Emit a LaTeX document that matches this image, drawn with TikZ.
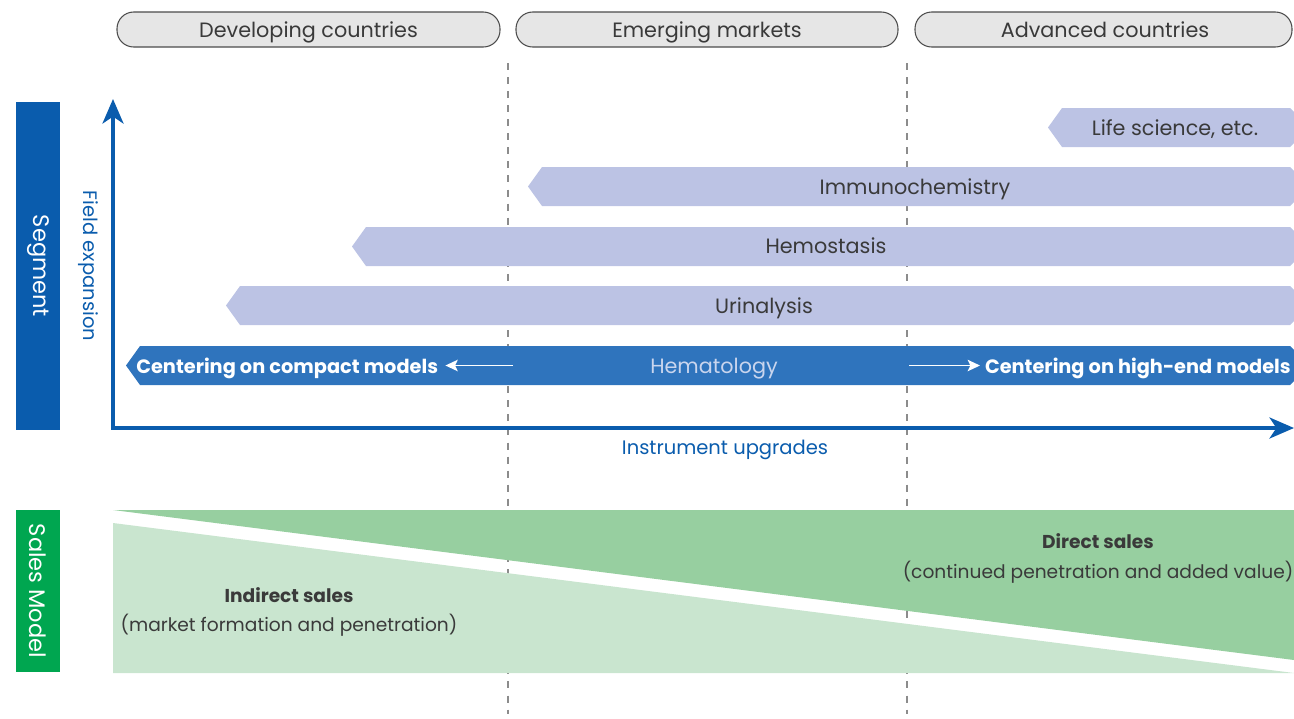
\documentclass[tikz,border=0pt]{standalone}
\usepackage{fontspec}
\setmainfont{Poppins}
\usetikzlibrary{arrows.meta}
\definecolor{segblue}{HTML}{0A5CAD}
\definecolor{hemblue}{HTML}{2F74BD}
\definecolor{lav}{HTML}{BCC3E4}
\definecolor{salesgreen}{HTML}{00A650}
\definecolor{dgreen}{HTML}{97CFA0}
\definecolor{lgreen}{HTML}{C9E5CF}
\definecolor{txt}{HTML}{3A3A3A}
\definecolor{pillfill}{HTML}{E6E6E6}
\definecolor{hemtxt}{HTML}{C9D5EE}
\begin{document}
\begin{tikzpicture}[x=0.02cm,y=-0.02cm,
  pill/.style={draw=black!70,line width=0.6pt,fill=pillfill,rounded corners=9.5pt},
  pilltxt/.style={anchor=base,text=txt,font=\fontsize{11.8}{14}\selectfont},
  bartxt/.style={anchor=base,text=txt,font=\fontsize{11.8}{14}\selectfont},
  whitebold/.style={text=white,font=\fontsize{11}{13}\selectfont\bfseries},
  saletxt/.style={anchor=base,text=txt,font=\fontsize{10.6}{13}\selectfont,align=center},
  axis/.style={draw=segblue,line width=1.8pt,-{Stealth[length=14pt,width=12pt,inset=4pt]}},
  axistxt/.style={text=segblue,font=\fontsize{11.1}{13}\selectfont},
  sidetxt/.style={text=white,font=\fontsize{12.8}{15}\selectfont,rotate=-90},
  divider/.style={draw=black!45,line width=0.6pt,dash pattern=on 4pt off 4pt},
  warrow/.style={draw=white,line width=0.9pt,-{Stealth[length=7pt,width=6.5pt,inset=1.5pt]}}
]
\useasboundingbox (0,0) rectangle (1294,718);

% dividers
\draw[divider] (508,63) -- (508,714);
\draw[divider] (907,63) -- (907,714);

% pills
\draw[pill] (117,12) rectangle (500,47);
\node[pilltxt] (p1) at (308.5,37) {Developing countries};
\draw[pill] (516,12) rectangle (898,47);
\node[pilltxt] (p2) at (707,37) {Emerging markets};
\draw[pill] (915,12) rectangle (1292,47);
\node[pilltxt] (p3) at (1105,37) {Advanced countries};

% side bars
\fill[segblue] (16,102) rectangle (60,430);
\node[sidetxt] (seg) at (38,266) {Segment};
\fill[salesgreen] (16,510) rectangle (60,672);
\node[sidetxt] (sm) at (38,591) {Sales Model};

% lavender bars
\fill[lav] (1048,127.5) -- (1062,108) -- (1290,108) -- (1294,112) -- (1294,143) -- (1290,147) -- (1062,147) -- cycle;
\node[bartxt] (ls) at (1175,135) {Life science, etc.};
\fill[lav] (528,186.5) -- (542,167) -- (1290,167) -- (1294,171) -- (1294,202) -- (1290,206) -- (542,206) -- cycle;
\node[bartxt] (im) at (915,194) {Immunochemistry};
\fill[lav] (352,246.5) -- (366,227) -- (1290,227) -- (1294,231) -- (1294,262) -- (1290,266) -- (366,266) -- cycle;
\node[bartxt] (hs) at (826,253) {Hemostasis};
\fill[lav] (226,305.5) -- (240,286) -- (1290,286) -- (1294,290) -- (1294,321) -- (1290,325) -- (240,325) -- cycle;
\node[bartxt] (ur) at (764,313) {Urinalysis};

% hematology bar
\fill[hemblue] (126,365.5) -- (140,346) -- (1290,346) -- (1294,350) -- (1294,381) -- (1290,385) -- (140,385) -- cycle;
\node[anchor=base,text=hemtxt,font=\fontsize{11.8}{14}\selectfont] (hem) at (714,373) {Hematology};
\node[whitebold,anchor=base west,inner sep=0pt] (cc) at (136,373) {Centering on compact models};
\node[whitebold,anchor=base east,inner sep=0pt] (ch) at (1291,373) {Centering on high-end models};
\coordinate (la) at (513,365.5);
\coordinate (ra) at (909,365.5);
\coordinate (ha) at (980,365.5);
\draw[warrow] (la) -- ([xshift=4pt]cc.east |- la);
\draw[warrow] (ra) -- (ha);

% axes
\coordinate (o) at (113,428);
\coordinate (ytop) at (113,99);
\coordinate (xend) at (1294,428);
\draw[axis] ([yshift=-0.9pt]o) -- (ytop);
\draw[axis] ([xshift=-0.9pt]o) -- (xend);
\node[axistxt,rotate=-90] (fe) at (88,266) {Field expansion};
\node[axistxt,anchor=base] (iu) at (725,454) {Instrument upgrades};

% sales model triangles
\fill[dgreen] (113,510) -- (1294,510) -- (1294,660) -- cycle;
\fill[lgreen] (113,523) -- (1294,673) -- (113,673) -- cycle;
\node[saletxt] (ds) at (1098,578) {\textbf{Direct sales}\\[4pt](continued penetration and added value)};
\node[saletxt] (is) at (289,631) {\textbf{Indirect sales}\\[3.5pt](market formation and penetration)};
\end{tikzpicture}
\end{document}
